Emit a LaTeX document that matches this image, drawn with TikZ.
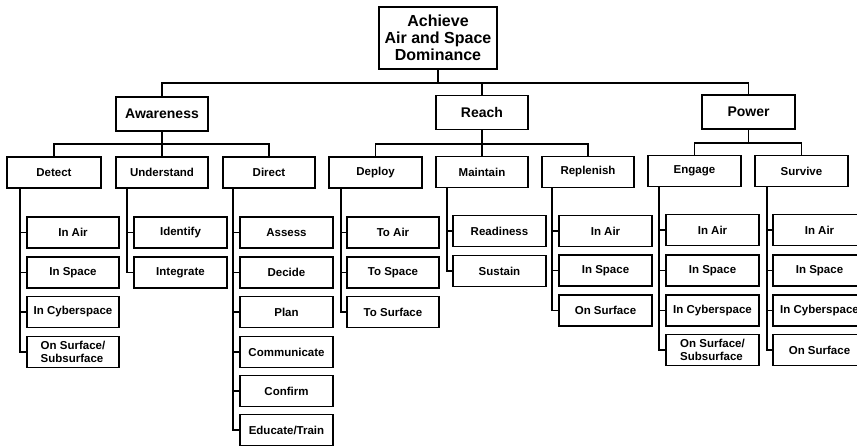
\documentclass[tikz,border=0pt]{standalone}
\usepackage{fontspec}
\setmainfont{Liberation Sans}
\begin{document}
\begin{tikzpicture}[x=1pt,y=-1pt,
  bx/.style={draw, line width=1.6pt, inner sep=0pt, align=center, font=\bfseries\fontsize{11.5}{12.5}\selectfont, minimum width=93pt, minimum height=31pt},
  hd/.style={bx, font=\bfseries\fontsize{14}{16}\selectfont, minimum height=34pt},
  rt/.style={bx, font=\bfseries\fontsize{16}{17}\selectfont, minimum width=118pt, minimum height=62pt},
  ln/.style={line width=1.7pt}]
\useasboundingbox (0,0) rectangle (857,446);
\fill[white] (0,0) rectangle (857,446);
\clip (0,0) rectangle (857,446);
% root and headings
\node[rt] (root) at (438,38) {Achieve\\Air and Space\\Dominance};
\node[hd, minimum width=92pt] (aw) at (162,114) {Awareness};
\node[hd, minimum width=92pt] (re) at (482,112.5) {Reach};
\node[hd] (pw) at (748.5,112) {Power};
% level 2
\node[bx, minimum width=94pt] (det) at (54,172.5) {Detect};
\node[bx, minimum width=92pt] (und) at (162,172.5) {Understand};
\node[bx, minimum width=92pt] (dir) at (269,172.5) {Direct};
\node[bx] (dep) at (375.5,172.5) {Deploy};
\node[bx, minimum width=92pt] (mai) at (482,172) {Maintain};
\node[bx, minimum width=92pt] (rep) at (588,172) {Replenish};
\node[bx] (eng) at (694.5,171) {Engage};
\node[bx] (sur) at (801.5,171) {Survive};
% level 3: Detect
\node[bx, minimum width=92pt] (d1) at (73,232.5) {In Air};
\node[bx, minimum width=92pt] (d2) at (73,272.5) {In Space};
\node[bx, minimum width=92pt] (d3) at (73,312) {In Cyberspace};
\node[bx, minimum width=92pt, align=left] (d4) at (73,352) {On Surface/\\Subsurface};
% Understand
\node[bx] (u1) at (180.5,232.5) {Identify};
\node[bx] (u2) at (180.5,272.5) {Integrate};
% Direct
\node[bx] (r1) at (286.5,232.5) {Assess};
\node[bx] (r2) at (286.5,272.5) {Decide};
\node[bx] (r3) at (286.5,312) {Plan};
\node[bx] (r4) at (286.5,352) {Communicate};
\node[bx] (r5) at (286.5,391) {Confirm};
\node[bx] (r6) at (286.5,430) {Educate/Train};
% Deploy
\node[bx, minimum width=92pt] (p1) at (393,232.5) {To Air};
\node[bx, minimum width=92pt] (p2) at (393,272.5) {To Space};
\node[bx, minimum width=92pt] (p3) at (393,312) {To Surface};
% Maintain
\node[bx] (m1) at (499.5,231) {Readiness};
\node[bx] (m2) at (499.5,271) {Sustain};
% Replenish
\node[bx] (l1) at (605.5,231) {In Air};
\node[bx] (l2) at (605.5,270.5) {In Space};
\node[bx] (l3) at (605.5,310.5) {On Surface};
% Engage
\node[bx] (e1) at (712.5,230) {In Air};
\node[bx] (e2) at (712.5,270.5) {In Space};
\node[bx] (e3) at (712.5,310.5) {In Cyberspace};
\node[bx, align=left] (e4) at (712.5,350) {On Surface/\\Subsurface};
% Survive
\node[bx] (s1) at (819.5,230) {In Air};
\node[bx] (s2) at (819.5,270.5) {In Space};
\node[bx] (s3) at (819.5,310.5) {In Cyberspace};
\node[bx] (s4) at (819.5,350) {On Surface};
% top connectors
\coordinate (bus0) at (438,83);
\draw[ln] (root.south) -- (bus0);
\draw[ln] (aw.north) |- (bus0) -| (pw.north);
\draw[ln] (re.north) -- (re.north |- bus0);
\coordinate (busA) at (162,144);
\draw[ln] (aw.south) -- (busA);
\draw[ln] (det.north) |- (busA) -| (dir.north);
\draw[ln] (und.north) -- (busA);
\coordinate (busR) at (482,144);
\draw[ln] (re.south) -- (busR);
\draw[ln] (dep.north) |- (busR) -| (rep.north);
\draw[ln] (mai.north) -- (busR);
\coordinate (busP) at (748.5,143);
\draw[ln] (pw.south) -- (busP);
\draw[ln] (eng.north) |- (busP) -| (sur.north);
% trunks
\coordinate (tD) at (20,0);
\coordinate (tU) at (127,0);
\coordinate (tR) at (233,0);
\coordinate (tP) at (341,0);
\coordinate (tM) at (447,0);
\coordinate (tL) at (552,0);
\coordinate (tE) at (659,0);
\coordinate (tS) at (767,0);
\draw[ln] (det.south -| tD) |- (d4.west);
\foreach \n in {d1,d2,d3} \draw[ln] (\n.west -| tD) -- (\n.west);
\draw[ln] (und.south -| tU) |- (u2.west);
\draw[ln] (u1.west -| tU) -- (u1.west);
\draw[ln] (dir.south -| tR) |- (r6.west);
\foreach \n in {r1,r2,r3,r4,r5} \draw[ln] (\n.west -| tR) -- (\n.west);
\draw[ln] (dep.south -| tP) |- (p3.west);
\foreach \n in {p1,p2} \draw[ln] (\n.west -| tP) -- (\n.west);
\draw[ln] (mai.south -| tM) |- (m2.west);
\draw[ln] (m1.west -| tM) -- (m1.west);
\draw[ln] (rep.south -| tL) |- (l3.west);
\foreach \n in {l1,l2} \draw[ln] (\n.west -| tL) -- (\n.west);
\draw[ln] (eng.south -| tE) |- (e4.west);
\foreach \n in {e1,e2,e3} \draw[ln] (\n.west -| tE) -- (\n.west);
\draw[ln] (sur.south -| tS) |- (s4.west);
\foreach \n in {s1,s2,s3} \draw[ln] (\n.west -| tS) -- (\n.west);
\end{tikzpicture}
\end{document}
